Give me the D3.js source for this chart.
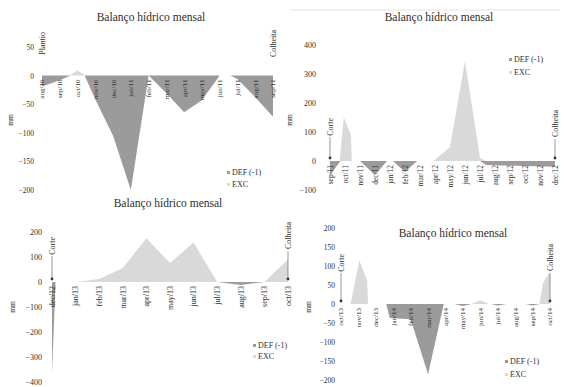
<!DOCTYPE html>
<html>
<head>
<meta charset="utf-8">
<script src="https://cdn.jsdelivr.net/npm/d3@7"></script>
<style>
  body { margin: 0; background: #fff; }
  svg text { font-family: 'Liberation Serif', 'Times New Roman', Times, serif !important; fill: #2e2e2e; }
</style>
</head>
<body>
<svg id="chart" width="565" height="387"></svg>
<script>
const title = "Balanço hídrico mensal"
const seriesNames = ["DEF (-1)", "EXC"]
const colors = ["#9b9b9b", "#d9d9d9"]

// panel 1 : aug/10 - sep/11
const months1 = ["aug/10", "sep/10", "oct/10", "nov/10", "dec/10", "jan/11", "feb/11",
  "mar/11", "apr/11", "may/11", "jun/11", "jul/11", "aug/11", "sep/11"]
const ticks1 = [50, 0, -50, -100, -150, -200]
// [month index, mm]
const def1 = [[0, -19], [1, -8], [1.6, 0], [2.4, 0], [3, -42], [4, -105], [5, -200], [6, 0],
  [7, -31], [8, -64], [9, -43], [10, 0], [10.6, 0], [11, -6], [12, -38], [13, -72]]
const exc1 = [[0, 0], [1.55, 0], [2, 9], [2.45, 0], [13, 0]]

// panel 2 : sep/11 - dec/12
const months2 = ["sep/11", "oct/11", "nov/11", "dec/11", "jan/12", "feb/12", "mar/12", "apr/12",
  "may/12", "jun/12", "jul/12", "aug/12", "sep/12", "oct/12", "nov/12", "dec/12"]
const ticks2 = [400, 300, 200, 100, 0, -100]
const def2 = [[0, -48], [0.7, 0], [2, 0], [3, -48], [3.8, 0], [4.2, 0], [5, -38], [5.8, 0],
  [10, 0], [10.4, -14], [15, -20]]
const exc2 = [[0, 0], [0.65, 0], [0.92, 150], [1.4, 90], [1.45, 0], [6.9, 0], [8, 48],
  [9, 345], [10, 10], [10.4, 0], [15, 0]]

// panel 3 : dec/12 - oct/13
const months3 = ["dec/12", "jan/13", "feb/13", "mar/13", "apr/13", "may/13", "jun/13",
  "jul/13", "aug/13", "sep/13", "oct/13"]
const ticks3 = [200, 100, 0, -100, -200, -300, -400]
const def3 = [[0, -365], [0.15, 0], [7, 0], [8, -12], [9, 0], [10, 0]]
const exc3 = [[0, 0], [1, 0], [2, 12], [3, 56], [4, 175], [5, 76], [6, 158], [7, 0],
  [9, 0], [10, 90]]

// panel 4 : oct/13 - oct/14
const months4 = ["oct/13", "nov/13", "dec/13", "jan/14", "feb/14", "mar/14", "apr/14",
  "may/14", "jun/14", "jul/14", "aug/14", "sep/14", "oct/14"]
const ticks4 = [200, 150, 100, 50, 0, -50, -100, -150, -200]
const def4 = [[0, 0], [2.6, 0], [2.8, -37], [4, -40], [5, -185], [5.9, 0], [6.5, 0], [7, -5],
  [7.5, 0], [8.6, 0], [9, -4], [9.5, 0], [10.6, 0], [11, -4], [11.4, 0], [12, 0]]
const exc4 = [[0, 0], [0.55, 0], [1.05, 115], [1.5, 62], [1.55, 0], [7.5, 0], [8, 10],
  [8.5, 0], [11.4, 0], [11.6, 55], [12, 85]]

const svg = d3.select("#chart")

/**
 * one "Balanço hídrico" panel
 */
function Panel(cfg) {
  const g = svg.append("g").classed("panel", true)
  const n = cfg.months.length

  const x = d3.scaleLinear()
    .domain([0, n - 1])
    .range(cfg.xRange)

  const y = d3.scaleLinear()
    .domain(d3.extent(cfg.ticks))
    .range(cfg.yRange)

  const area = d3.area()
    .x(d => x(d[0]))
    .y0(y(0))
    .y1(d => y(d[1]))

  g.append("path").datum(cfg.def)
    .attr("d", area)
    .attr("fill", colors[0])

  g.append("path").datum(cfg.exc)
    .attr("d", area)
    .attr("fill", colors[1])

  // y ticks, no axis line
  const axisY = g.append("g").classed("axis y", true)
    .attr("transform", `translate(${cfg.yLabelX},0)`)
    .call(d3.axisLeft(y).tickValues(cfg.ticks).tickSize(0).tickPadding(0))
  axisY.attr("font-family", null)
  axisY.select(".domain").remove()
  axisY.selectAll("text")
    .attr("font-size", cfg.tickSize)

  // month labels, vertical, just under the zero line
  g.append("g").classed("axis x", true)
    .selectAll("text")
    .data(cfg.months)
    .join("text")
    .attr("transform", (d, i) => `translate(${x(i) + cfg.monthSize * 0.35},${y(0) + 4}) rotate(-90)`)
    .attr("text-anchor", "end")
    .attr("font-size", cfg.monthSize)
    .text(d => d)

  g.append("text")
    .attr("x", cfg.titleX).attr("y", cfg.titleY)
    .attr("text-anchor", "middle")
    .attr("font-size", 11.5)
    .text(title)

  g.append("text")
    .attr("transform", `translate(${cfg.mmX},${cfg.mmY}) rotate(-90)`)
    .attr("text-anchor", "middle")
    .attr("font-size", 7.5)
    .text("mm")

  // Plantio / Corte / Colheita markers
  cfg.marks.forEach(m => {
    const mx = x(m.idx)
    g.append("text")
      .attr("transform", `translate(${mx + 2.5},${m.top}) rotate(-90)`)
      .attr("text-anchor", "end")
      .attr("font-size", 8)
      .text(m.text)
    if (m.arrow) {
      const len = m.text.length * 3.4
      g.append("line")
        .attr("x1", mx).attr("x2", mx)
        .attr("y1", m.top + len + 2).attr("y2", y(0) - 3)
        .attr("stroke", "#555").attr("stroke-width", 0.6)
      g.append("circle")
        .attr("cx", mx).attr("cy", y(0) - 3)
        .attr("r", 1.4).attr("fill", "#333")
    }
  })

  // legend
  const legend = g.append("g").classed("legend", true)
    .selectAll("g")
    .data(seriesNames)
    .join("g")
    .attr("transform", (d, i) => `translate(${cfg.legend[0]},${cfg.legend[1] + i * cfg.legend[2]})`)
  legend.append("rect")
    .attr("x", 0).attr("y", -3).attr("width", 3).attr("height", 3)
    .attr("fill", (d, i) => colors[i])
  legend.append("text")
    .attr("x", 5).attr("y", 0.5)
    .attr("font-size", 8)
    .text(d => d)
}

// thin rule on top of the second panel
svg.append("line")
  .attr("x1", 290).attr("x2", 560).attr("y1", 10).attr("y2", 10)
  .attr("stroke", "#e3e3e3").attr("stroke-width", 1)

Panel({
  months: months1, ticks: ticks1, def: def1, exc: exc1,
  xRange: [42, 273], yRange: [190, 47],
  yLabelX: 34, tickSize: 7.5, monthSize: 7,
  titleX: 151, titleY: 21, mmX: 13, mmY: 120,
  legend: [227, 174, 12],
  marks: [{ idx: 0, text: "Plantio", top: 32 }, { idx: 13, text: "Colheita", top: 30 }]
})

Panel({
  months: months2, ticks: ticks2, def: def2, exc: exc2,
  xRange: [330, 555], yRange: [190, 45],
  yLabelX: 316, tickSize: 8, monthSize: 7.5,
  titleX: 439, titleY: 21, mmX: 292, mmY: 120,
  legend: [509, 61, 13],
  marks: [{ idx: 0, text: "Corte", top: 118, arrow: true }, { idx: 15, text: "Colheita", top: 110, arrow: true }]
})

Panel({
  months: months3, ticks: ticks3, def: def3, exc: exc3,
  xRange: [52, 288], yRange: [382, 232],
  yLabelX: 42, tickSize: 8, monthSize: 8,
  titleX: 168, titleY: 207, mmX: 15, mmY: 307,
  legend: [253, 347, 11],
  marks: [{ idx: 0, text: "Corte", top: 237, arrow: true }, { idx: 10, text: "Colheita", top: 222, arrow: true }]
})

Panel({
  months: months4, ticks: ticks4, def: def4, exc: exc4,
  xRange: [341, 550], yRange: [380, 228],
  yLabelX: 335, tickSize: 7.5, monthSize: 7,
  titleX: 453, titleY: 237, mmX: 311, mmY: 307,
  legend: [505, 363, 13],
  marks: [{ idx: 0, text: "Corte", top: 254, arrow: true }, { idx: 12, text: "Colheita", top: 244, arrow: true }]
})
</script>
</body>
</html>
